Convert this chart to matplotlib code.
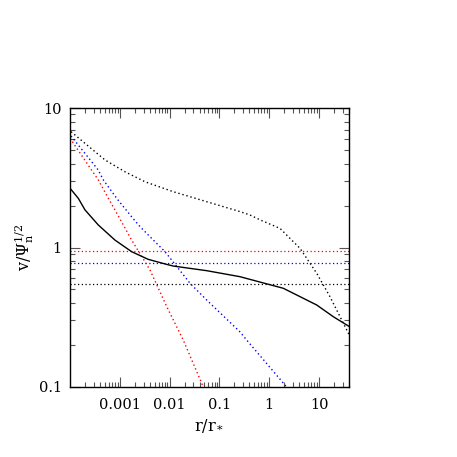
import numpy as np
import matplotlib
matplotlib.use('Agg')
import matplotlib.pyplot as plt
from matplotlib.ticker import LogLocator, FixedLocator, FixedFormatter, NullFormatter

plt.rcParams['font.family'] = 'DejaVu Serif'
plt.rcParams['mathtext.fontset'] = 'dejavuserif'

# solid black curve
r_solid = [1.0e-4, 1.47e-4, 2.0e-4, 3.7e-4, 8.0e-4, 1.73e-3, 3.7e-3, 8.1e-3,
           0.0119, 0.0556, 0.257, 1.92, 9.0, 19.4, 40.0]
v_solid = [2.66, 2.25, 1.86, 1.45, 1.13, 0.933, 0.823, 0.762,
           0.736, 0.682, 0.618, 0.510, 0.387, 0.319, 0.272]

# dotted black curve
r_dot = [1.05e-4, 2.0e-4, 5.05e-4, 1.27e-3, 3.2e-3, 0.0119, 0.0556, 0.257,
         0.411, 0.65, 1.65, 2.83, 4.15, 9.0, 16.6, 40.0]
v_dot = [6.76, 5.58, 4.24, 3.49, 2.96, 2.51, 2.13, 1.81,
         1.71, 1.58, 1.37, 1.13, 0.987, 0.653, 0.444, 0.238]

# red dotted
r_red = [1.0e-4, 3.7e-4, 5.9e-4, 8.0e-4, 1.73e-3, 4.04e-3, 8.75e-3, 0.0188, 0.0475]
v_red = [6.07, 3.05, 2.25, 1.86, 1.13, 0.69, 0.377, 0.217, 0.1]

# blue dotted
r_blue = [1.05e-4, 3.7e-4, 4.67e-4, 8.67e-4, 1.73e-3, 2.55e-3, 4.71e-3, 8.1e-3,
          0.0257, 0.0556, 0.257, 0.353, 2.24]
v_blue = [6.30, 3.59, 3.05, 2.25, 1.66, 1.41, 1.13, 0.933,
          0.554, 0.42, 0.249, 0.217, 0.1]

# horizontal levels
h_red = 0.942
h_blue = 0.770
h_black = 0.545

xlim = (1e-4, 40)
ylim = (0.1, 10)

fig = plt.figure(figsize=(4.57, 4.57), dpi=100)
ax = fig.add_axes([70 / 457, 70 / 457, 279 / 457, 279 / 457])

dot = (0, (1, 2))
ax.axhline(h_red, color='red', lw=0.9, ls=dot)
ax.axhline(h_blue, color='blue', lw=0.9, ls=dot)
ax.axhline(h_black, color='black', lw=0.9, ls=dot)

ax.plot(r_red, v_red, color='red', lw=1.0, ls=dot)
ax.plot(r_blue, v_blue, color='blue', lw=1.0, ls=dot)
ax.plot(r_dot, v_dot, color='black', lw=1.0, ls=dot)
ax.plot(r_solid, v_solid, color='black', lw=1.0)

ax.set_xscale('log')
ax.set_yscale('log')
ax.set_xlim(*xlim)
ax.set_ylim(*ylim)

ax.xaxis.set_major_locator(FixedLocator([1e-3, 1e-2, 1e-1, 1, 10]))
ax.xaxis.set_major_formatter(FixedFormatter(['0.001', '0.01', '0.1', '1', '10']))
ax.xaxis.set_minor_locator(LogLocator(base=10, subs=np.arange(2, 10), numticks=20))
ax.xaxis.set_minor_formatter(NullFormatter())
ax.yaxis.set_major_locator(FixedLocator([0.1, 1, 10]))
ax.yaxis.set_major_formatter(FixedFormatter(['0.1', '1', '10']))
ax.yaxis.set_minor_locator(LogLocator(base=10, subs=np.arange(2, 10), numticks=20))
ax.yaxis.set_minor_formatter(NullFormatter())

ax.tick_params(which='both', direction='in', top=True, right=True, labelsize=10.5,
               width=0.8, color='#555555')
ax.tick_params(which='major', length=7)
ax.tick_params(axis='x', which='major', pad=8)
ax.tick_params(axis='y', which='major', pad=6)
ax.tick_params(which='minor', length=3.5)
for s in ax.spines.values():
    s.set_linewidth(1.0)

ax.set_xlabel(r'r/r$_*$', fontsize=11.5, labelpad=4)
ax.set_ylabel(r'v/$\Psi_{\rm n}^{1/2}$', fontsize=11.5, labelpad=2)

fig.savefig('out.png', dpi=100)
